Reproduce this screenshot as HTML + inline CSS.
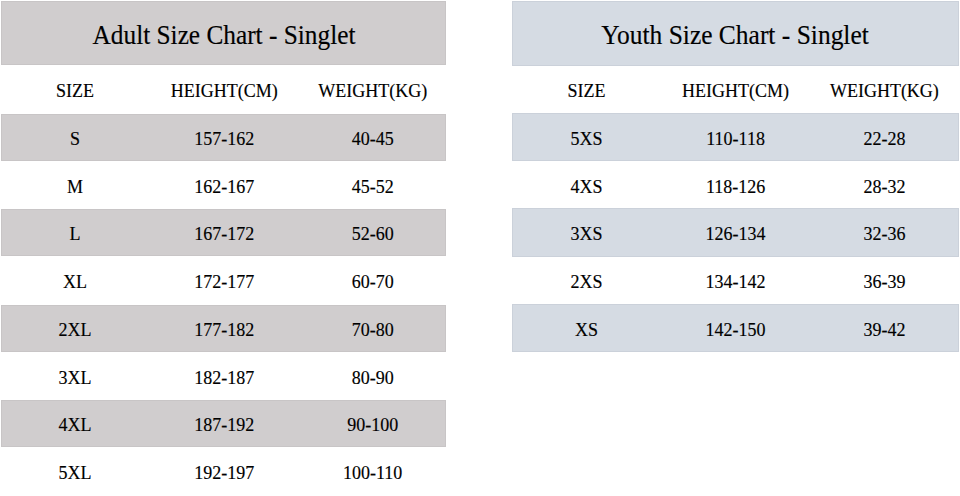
<!DOCTYPE html>
<html><head><meta charset="utf-8">
<style>
html,body{margin:0;padding:0;background:#fff;width:960px;height:496px;overflow:hidden;}
body{position:relative;font-family:"Liberation Serif",serif;color:#000;}
.r{position:absolute;}
.x{position:absolute;width:200px;text-align:center;white-space:nowrap;-webkit-text-stroke:0.15px #000;}
</style></head><body>
<div class="r" style="left:1px;top:1px;width:445.4px;height:64px;background:#d0cdce;box-shadow:inset 0 0 0 1px #c8c5c6;"></div>
<div class="r" style="left:1px;top:114px;width:445.4px;height:46.5px;background:#d0cdce;box-shadow:inset 0 0 0 1px #c8c5c6;"></div>
<div class="r" style="left:1px;top:209px;width:445.4px;height:47px;background:#d0cdce;box-shadow:inset 0 0 0 1px #c8c5c6;"></div>
<div class="r" style="left:1px;top:305px;width:445.4px;height:46.6px;background:#d0cdce;box-shadow:inset 0 0 0 1px #c8c5c6;"></div>
<div class="r" style="left:1px;top:400.4px;width:445.4px;height:46.6px;background:#d0cdce;box-shadow:inset 0 0 0 1px #c8c5c6;"></div>
<div class="r" style="left:512px;top:1px;width:447px;height:65px;background:#d5dbe3;box-shadow:inset 0 0 0 1px #cbd1da;"></div>
<div class="r" style="left:512px;top:112.8px;width:447px;height:48.1px;background:#d5dbe3;box-shadow:inset 0 0 0 1px #cbd1da;"></div>
<div class="r" style="left:512px;top:208.3px;width:447px;height:48.5px;background:#d5dbe3;box-shadow:inset 0 0 0 1px #cbd1da;"></div>
<div class="r" style="left:512px;top:304px;width:447px;height:48.4px;background:#d5dbe3;box-shadow:inset 0 0 0 1px #cbd1da;"></div>
<div class="x" style="left:-24.900000000000006px;top:71.3px;height:40px;line-height:40px;font-size:18px;">SIZE</div>
<div class="x" style="left:124.19999999999999px;top:71.3px;height:40px;line-height:40px;font-size:18px;">HEIGHT(CM)</div>
<div class="x" style="left:272.7px;top:71.3px;height:40px;line-height:40px;font-size:18px;">WEIGHT(KG)</div>
<div class="x" style="left:-24.900000000000006px;top:118.9px;height:40px;line-height:40px;font-size:18px;">S</div>
<div class="x" style="left:124.19999999999999px;top:118.9px;height:40px;line-height:40px;font-size:18px;">157-162</div>
<div class="x" style="left:272.7px;top:118.9px;height:40px;line-height:40px;font-size:18px;">40-45</div>
<div class="x" style="left:-24.900000000000006px;top:166.65px;height:40px;line-height:40px;font-size:18px;">M</div>
<div class="x" style="left:124.19999999999999px;top:166.65px;height:40px;line-height:40px;font-size:18px;">162-167</div>
<div class="x" style="left:272.7px;top:166.65px;height:40px;line-height:40px;font-size:18px;">45-52</div>
<div class="x" style="left:-24.900000000000006px;top:214.4px;height:40px;line-height:40px;font-size:18px;">L</div>
<div class="x" style="left:124.19999999999999px;top:214.4px;height:40px;line-height:40px;font-size:18px;">167-172</div>
<div class="x" style="left:272.7px;top:214.4px;height:40px;line-height:40px;font-size:18px;">52-60</div>
<div class="x" style="left:-24.900000000000006px;top:262.15px;height:40px;line-height:40px;font-size:18px;">XL</div>
<div class="x" style="left:124.19999999999999px;top:262.15px;height:40px;line-height:40px;font-size:18px;">172-177</div>
<div class="x" style="left:272.7px;top:262.15px;height:40px;line-height:40px;font-size:18px;">60-70</div>
<div class="x" style="left:-24.900000000000006px;top:309.9px;height:40px;line-height:40px;font-size:18px;">2XL</div>
<div class="x" style="left:124.19999999999999px;top:309.9px;height:40px;line-height:40px;font-size:18px;">177-182</div>
<div class="x" style="left:272.7px;top:309.9px;height:40px;line-height:40px;font-size:18px;">70-80</div>
<div class="x" style="left:-24.900000000000006px;top:357.65px;height:40px;line-height:40px;font-size:18px;">3XL</div>
<div class="x" style="left:124.19999999999999px;top:357.65px;height:40px;line-height:40px;font-size:18px;">182-187</div>
<div class="x" style="left:272.7px;top:357.65px;height:40px;line-height:40px;font-size:18px;">80-90</div>
<div class="x" style="left:-24.900000000000006px;top:405.4px;height:40px;line-height:40px;font-size:18px;">4XL</div>
<div class="x" style="left:124.19999999999999px;top:405.4px;height:40px;line-height:40px;font-size:18px;">187-192</div>
<div class="x" style="left:272.7px;top:405.4px;height:40px;line-height:40px;font-size:18px;">90-100</div>
<div class="x" style="left:-24.900000000000006px;top:453.15px;height:40px;line-height:40px;font-size:18px;">5XL</div>
<div class="x" style="left:124.19999999999999px;top:453.15px;height:40px;line-height:40px;font-size:18px;">192-197</div>
<div class="x" style="left:272.7px;top:453.15px;height:40px;line-height:40px;font-size:18px;">100-110</div>
<div class="x" style="left:486.6px;top:71.3px;height:40px;line-height:40px;font-size:18px;">SIZE</div>
<div class="x" style="left:635.6px;top:71.3px;height:40px;line-height:40px;font-size:18px;">HEIGHT(CM)</div>
<div class="x" style="left:784.4px;top:71.3px;height:40px;line-height:40px;font-size:18px;">WEIGHT(KG)</div>
<div class="x" style="left:486.6px;top:118.9px;height:40px;line-height:40px;font-size:18px;">5XS</div>
<div class="x" style="left:635.6px;top:118.9px;height:40px;line-height:40px;font-size:18px;">110-118</div>
<div class="x" style="left:784.4px;top:118.9px;height:40px;line-height:40px;font-size:18px;">22-28</div>
<div class="x" style="left:486.6px;top:166.65px;height:40px;line-height:40px;font-size:18px;">4XS</div>
<div class="x" style="left:635.6px;top:166.65px;height:40px;line-height:40px;font-size:18px;">118-126</div>
<div class="x" style="left:784.4px;top:166.65px;height:40px;line-height:40px;font-size:18px;">28-32</div>
<div class="x" style="left:486.6px;top:214.4px;height:40px;line-height:40px;font-size:18px;">3XS</div>
<div class="x" style="left:635.6px;top:214.4px;height:40px;line-height:40px;font-size:18px;">126-134</div>
<div class="x" style="left:784.4px;top:214.4px;height:40px;line-height:40px;font-size:18px;">32-36</div>
<div class="x" style="left:486.6px;top:262.15px;height:40px;line-height:40px;font-size:18px;">2XS</div>
<div class="x" style="left:635.6px;top:262.15px;height:40px;line-height:40px;font-size:18px;">134-142</div>
<div class="x" style="left:784.4px;top:262.15px;height:40px;line-height:40px;font-size:18px;">36-39</div>
<div class="x" style="left:486.6px;top:309.9px;height:40px;line-height:40px;font-size:18px;">XS</div>
<div class="x" style="left:635.6px;top:309.9px;height:40px;line-height:40px;font-size:18px;">142-150</div>
<div class="x" style="left:784.4px;top:309.9px;height:40px;line-height:40px;font-size:18px;">39-42</div>
<div class="x" style="left:24.150000000000006px;top:10.0px;width:400px;height:50px;line-height:50px;font-size:26.5px;transform:scaleX(0.955);">Adult Size Chart - Singlet</div>
<div class="x" style="left:534.8px;top:10.0px;width:400px;height:50px;line-height:50px;font-size:26.5px;transform:scaleX(0.961);">Youth Size Chart - Singlet</div>
</body></html>
